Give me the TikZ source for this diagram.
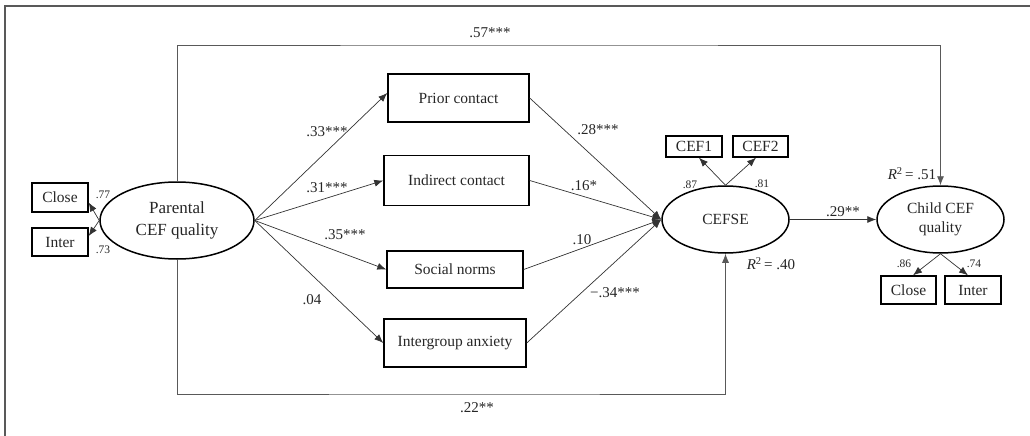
\documentclass[tikz,border=0pt]{standalone}
\usepackage{fontspec}
\setmainfont{Liberation Serif}
\usetikzlibrary{shapes.geometric,arrows.meta}
\newcommand\fsA{\fontsize{15.5}{19}\selectfont}
\newcommand\fsP{\fontsize{17}{22}\selectfont}
\newcommand\fsC{\fontsize{15}{18}\selectfont}
\newcommand\fsS{\fontsize{11.5}{14}\selectfont}
\tikzset{
  box/.style={draw, line width=1.4pt, inner sep=0pt, font=\fsA, text=black!85},
  lat/.style={draw, ellipse, line width=1.5pt, inner sep=0pt, font=\fsA, text=black!85, align=center},
  conn/.style={line width=0.7pt, draw=black!80, -{Latex[length=9pt,width=7pt]}},
  coef/.style={font=\fsC, text=black!85, inner sep=0pt},
  load/.style={font=\fsS, text=black!85, inner sep=0pt}
}
\begin{document}
\begin{tikzpicture}[x=1pt,y=-1pt]
\useasboundingbox (0,0) rectangle (1030,436);
\draw[line width=1.5pt, black!65] (5,436) -- (5,6) -- (1030,6);

% observed / latent nodes
\node[box, minimum width=56pt, minimum height=29pt] (closeA) at (60,197.5) {Close};
\node[box, minimum width=56pt, minimum height=28pt] (interA) at (60,242) {Inter};
\node[lat, minimum width=154pt, minimum height=77pt, font=\fsP] (parental) at (177,220.5) {Parental\\CEF quality};

\node[box, minimum width=141pt, minimum height=48pt] (prior) at (458.5,98) {Prior contact};
\node[box, minimum width=145pt, minimum height=50pt] (indirect) at (456.5,180.5) {Indirect contact};
\node[box, minimum width=136pt, minimum height=37pt] (social) at (455,269.5) {Social norms};
\node[box, minimum width=142pt, minimum height=48pt] (anxiety) at (455,343) {Intergroup anxiety};

\node[lat, minimum width=127pt, minimum height=67pt] (cefse) at (725.5,219.5) {CEFSE};
\node[box, minimum width=56pt, minimum height=21pt] (cefone) at (694,146.5) {CEF1};
\node[box, minimum width=55pt, minimum height=21pt] (ceftwo) at (760.5,146.5) {CEF2};

\node[lat, minimum width=127pt, minimum height=67pt] (child) at (940.5,219.5) {Child CEF\\quality};
\node[box, minimum width=55pt, minimum height=28pt] (closeB) at (908.5,290) {Close};
\node[box, minimum width=56pt, minimum height=28pt] (interB) at (973,290) {Inter};

% coordinates for the long paths
\coordinate (topy) at (500,45);
\coordinate (boty) at (477,394);

% connectors
\draw[conn] (parental.west) -- ([yshift=-5pt]closeA.east);
\draw[conn] (parental.west) -- ([yshift=6pt]interA.east);

\draw[conn] (parental.east) -- ([yshift=5pt]prior.west);
\draw[conn] (parental.east) -- (indirect.west);
\draw[conn] (parental.east) -- (social.west);
\draw[conn] (parental.east) -- (anxiety.west);

\draw[conn] (prior.east) -- (cefse.west);
\draw[conn] (indirect.east) -- (cefse.west);
\draw[conn] (social.east) -- (cefse.west);
\draw[conn] (anxiety.east) -- (cefse.west);

\draw[conn] (cefse.north) -- ([xshift=5pt]cefone.south);
\draw[conn] (cefse.north) -- ([xshift=-4.5pt]ceftwo.south);

\draw[conn] (cefse.east) -- (child.west);

\draw[conn] (child.south) -- ([xshift=4.5pt]closeB.north);
\draw[conn] (child.south) -- ([xshift=-5pt]interB.north);

\draw[conn, draw=black!65] (parental.north) |- (topy) -| (child.north);
\draw[conn, draw=black!65] (parental.south) |- (boty) -| (cefse.south);

% labels
\node[coef] (l57) at (490,33) {.57***};
\node[coef] (l22) at (477,408) {.22**};
\node[coef] (l33) at (327,132) {.33***};
\node[coef] (l31) at (327,188) {.31***};
\node[coef] (l35) at (345,235) {.35***};
\node[coef] (l04) at (312,300) {.04};
\node[coef] (l28) at (598,130) {.28***};
\node[coef] (l16) at (584,186) {.16*};
\node[coef] (l10) at (582,240) {.10};
\node[coef] (l34) at (615,293) {−.34***};
\node[coef] (l29) at (843,212) {.29**};
\node[coef] (r40) at (771,264) {\textit{R}\textsuperscript{2}\,= .40};
\node[coef] (r51) at (912,174) {\textit{R}\textsuperscript{2}\,= .51};

\node[load] (l77) at (103,195) {.77};
\node[load] (l73) at (103,250) {.73};
\node[load] (l87) at (690,185) {.87};
\node[load] (l81) at (762,184) {.81};
\node[load] (l86) at (904,264) {.86};
\node[load] (l74) at (974,264) {.74};
\end{tikzpicture}
\end{document}
